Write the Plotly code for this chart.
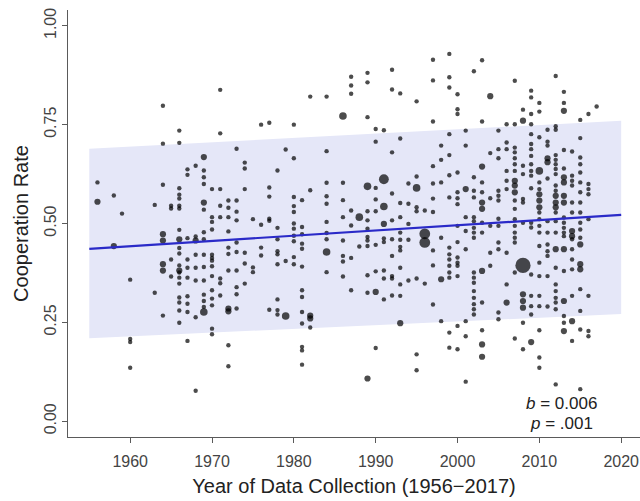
import numpy as np
import plotly.graph_objects as go

# ---- data ----
study_year = (
    [1956]*2 + [1958]*2 + [1959]*1 + [1960]*4 + [1963]*2 + [1964]*8 + [1965]*4 +
    [1966]*20 + [1967]*10 + [1968]*8 + [1969]*15 + [1970]*14 + [1971]*8 +
    [1972]*11 + [1973]*10 + [1974]*6 + [1975]*3 + [1976]*4 + [1977]*6 +
    [1978]*9 + [1979]*3 + [1980]*11 + [1981]*13 + [1982]*5 + [1984]*10 +
    [1986]*8 + [1987]*7 + [1988]*2 + [1989]*13 + [1990]*9 + [1991]*9 +
    [1992]*10 + [1993]*12 + [1994]*5 + [1995]*8 + [1996]*4 + [1997]*10 +
    [1998]*6 + [1999]*15 + [2000]*15 + [2001]*9 + [2002]*17 + [2003]*14 +
    [2004]*6 + [2005]*12 + [2006]*9 + [2007]*19 + [2008]*13 + [2009]*19 +
    [2010]*21 + [2011]*13 + [2012]*24 + [2013]*20 + [2014]*15 + [2015]*19 +
    [2016]*8 + [2017]*1
)

coop_rate = [
    0.604, 0.555,                                                   # 1956
    0.571, 0.443,                                                   # 1958
    0.525,                                                          # 1959
    0.358, 0.208, 0.200, 0.135,                                     # 1960
    0.547, 0.325,                                                   # 1963
    0.798, 0.702, 0.598, 0.473, 0.457, 0.397, 0.381, 0.267,         # 1964
    0.545, 0.538, 0.409, 0.366,                                     # 1965
    0.735, 0.704, 0.589, 0.573, 0.563, 0.545, 0.538, 0.484, 0.460, 0.438,
    0.424, 0.394, 0.381, 0.376, 0.363, 0.348, 0.313, 0.300, 0.280, 0.249,  # 1966
    0.637, 0.623, 0.463, 0.409, 0.388, 0.363, 0.316, 0.297, 0.276, 0.203,  # 1967
    0.646, 0.467, 0.457, 0.421, 0.388, 0.356, 0.263, 0.077,         # 1968
    0.668, 0.634, 0.617, 0.600, 0.553, 0.535, 0.478, 0.460, 0.421, 0.390,
    0.356, 0.320, 0.304, 0.289, 0.276,                              # 1969
    0.587, 0.516, 0.504, 0.485, 0.421, 0.413, 0.406, 0.392, 0.367, 0.331,
    0.310, 0.293, 0.234, 0.220,                                     # 1970
    0.838, 0.728, 0.587, 0.545, 0.516, 0.361, 0.349, 0.318,         # 1971
    0.558, 0.540, 0.516, 0.480, 0.439, 0.423, 0.381, 0.285, 0.278, 0.192,
    0.139,                                                          # 1972
    0.689, 0.558, 0.530, 0.508, 0.452, 0.428, 0.381, 0.339, 0.321, 0.285,  # 1973
    0.654, 0.639, 0.587, 0.426, 0.399, 0.348,                       # 1974
    0.511, 0.389, 0.377,                                            # 1975
    0.750, 0.497, 0.439, 0.419,                                     # 1976
    0.755, 0.591, 0.568, 0.512, 0.507, 0.282,                       # 1977
    0.634, 0.489, 0.460, 0.430, 0.422, 0.397, 0.308, 0.281, 0.270,  # 1978
    0.687, 0.405, 0.266,                                            # 1979
    0.750, 0.665, 0.567, 0.544, 0.529, 0.500, 0.487, 0.469, 0.455, 0.415,
    0.397,                                                          # 1980
    0.559, 0.491, 0.473, 0.449, 0.436, 0.391, 0.331, 0.314, 0.276, 0.247,
    0.188, 0.179, 0.143,                                            # 1981
    0.821, 0.584, 0.267, 0.260, 0.237,                              # 1982
    0.821, 0.683, 0.603, 0.569, 0.550, 0.504, 0.476, 0.460, 0.428, 0.377,  # 1984
    0.772, 0.603, 0.559, 0.516, 0.457, 0.418, 0.404, 0.366,         # 1986
    0.871, 0.849, 0.828, 0.533, 0.495, 0.413, 0.331,                # 1987
    0.516, 0.442,                                                   # 1988
    0.881, 0.857, 0.769, 0.594, 0.531, 0.508, 0.487, 0.466, 0.457, 0.443,
    0.369, 0.325, 0.108,                                            # 1989
    0.739, 0.707, 0.590, 0.561, 0.531, 0.446, 0.379, 0.327, 0.185,  # 1990
    0.736, 0.612, 0.543, 0.499, 0.462, 0.453, 0.381, 0.361, 0.308,  # 1991
    0.889, 0.839, 0.680, 0.576, 0.508, 0.460, 0.418, 0.367, 0.361, 0.318,  # 1992
    0.829, 0.715, 0.552, 0.516, 0.477, 0.459, 0.441, 0.432, 0.388, 0.346,
    0.317, 0.248,                                                   # 1993
    0.601, 0.550, 0.499, 0.459, 0.356,                              # 1994
    0.809, 0.619, 0.590, 0.541, 0.531, 0.361, 0.169, 0.129,         # 1995
    0.533, 0.474, 0.452, 0.348,                                     # 1996
    0.914, 0.862, 0.758, 0.645, 0.601, 0.563, 0.529, 0.432, 0.394, 0.295,  # 1997
    0.697, 0.661, 0.604, 0.464, 0.359, 0.253,                       # 1998
    0.929, 0.870, 0.844, 0.726, 0.673, 0.622, 0.566, 0.439, 0.422, 0.409,
    0.393, 0.376, 0.363, 0.224, 0.186,                              # 1999
    0.827, 0.789, 0.777, 0.629, 0.579, 0.564, 0.549, 0.494, 0.453, 0.414,
    0.401, 0.393, 0.367, 0.241, 0.182,                              # 2000
    0.735, 0.697, 0.587, 0.516, 0.481, 0.435, 0.253, 0.215, 0.100,  # 2001
    0.885, 0.617, 0.583, 0.566, 0.516, 0.506, 0.489, 0.477, 0.464, 0.376,
    0.363, 0.350, 0.329, 0.312, 0.296, 0.283, 0.270,                # 2002
    0.913, 0.758, 0.644, 0.604, 0.579, 0.553, 0.537, 0.502, 0.477, 0.380,
    0.300, 0.230, 0.194, 0.163,                                     # 2003
    0.822, 0.678, 0.564, 0.494, 0.426, 0.393,                       # 2004
    0.735, 0.688, 0.665, 0.583, 0.570, 0.558, 0.512, 0.494, 0.452, 0.435,
    0.275, 0.258,                                                   # 2005
    0.751, 0.705, 0.688, 0.633, 0.608, 0.587, 0.426, 0.346, 0.300,  # 2006
    0.861, 0.751, 0.692, 0.680, 0.665, 0.650, 0.633, 0.608, 0.596, 0.579,
    0.558, 0.537, 0.511, 0.494, 0.477, 0.464, 0.452, 0.376, 0.209,  # 2007
    0.788, 0.760, 0.646, 0.625, 0.562, 0.553, 0.502, 0.394, 0.321, 0.304,
    0.287, 0.249, 0.182,                                            # 2008
    0.836, 0.819, 0.777, 0.751, 0.726, 0.701, 0.688, 0.671, 0.650, 0.633,
    0.621, 0.589, 0.502, 0.490, 0.371, 0.317, 0.291, 0.270, 0.200,  # 2009
    0.805, 0.783, 0.718, 0.633, 0.604, 0.587, 0.574, 0.558, 0.541, 0.528,
    0.511, 0.494, 0.477, 0.443, 0.401, 0.367, 0.317, 0.291, 0.230, 0.161,
    0.135,                                                          # 2010
    0.737, 0.707, 0.697, 0.665, 0.655, 0.614, 0.506, 0.477, 0.447, 0.430,
    0.418, 0.367, 0.290,                                            # 2011
    0.873, 0.746, 0.737, 0.673, 0.661, 0.650, 0.638, 0.625, 0.596, 0.583,
    0.570, 0.553, 0.541, 0.528, 0.506, 0.477, 0.435, 0.388, 0.346, 0.329,
    0.312, 0.300, 0.283, 0.093,                                     # 2012
    0.833, 0.805, 0.785, 0.686, 0.639, 0.617, 0.604, 0.570, 0.553, 0.515,
    0.502, 0.489, 0.477, 0.468, 0.435, 0.380, 0.304, 0.266, 0.249, 0.228,  # 2013
    0.682, 0.621, 0.608, 0.596, 0.553, 0.528, 0.481, 0.468, 0.460, 0.435,
    0.409, 0.384, 0.317, 0.253, 0.203,                              # 2014
    0.762, 0.716, 0.667, 0.650, 0.629, 0.604, 0.579, 0.553, 0.528, 0.502,
    0.485, 0.464, 0.447, 0.397, 0.384, 0.334, 0.279, 0.232, 0.081,  # 2015
    0.777, 0.600, 0.587, 0.574, 0.511, 0.317, 0.228, 0.215,         # 2016
    0.796,                                                          # 2017
]

# relative study weight (drives dot size)
study_weight = [
    1, 2,
    1, 2,
    1,
    1, 1, 1, 1,
    1, 1,
    1, 1, 1, 2, 2, 2, 2, 1,
    1, 1, 1, 1,
    1, 1, 1, 1, 1, 1, 1, 1, 2, 1,
    1, 1, 2, 1, 1, 1, 1, 1, 1, 1,
    1, 1, 1, 1, 1, 1, 1, 1, 1, 1,
    1, 1, 2, 1, 1, 1, 1, 1,
    2, 1, 1, 1, 2, 1, 1, 1, 1, 1,
    1, 1, 1, 1, 3,
    1, 1, 1, 1, 1, 1, 1, 1, 1, 1,
    1, 1, 1, 1,
    1, 1, 1, 1, 1, 1, 1, 1,
    1, 1, 1, 1, 1, 1, 1, 2, 2, 1,
    1,
    1, 1, 1, 1, 1, 1, 1, 1, 1, 1,
    1, 1, 1, 1, 1, 1,
    1, 1, 1,
    1, 1, 1, 1,
    1, 1, 1, 1, 1, 1,
    1, 1, 1, 1, 1, 1, 1, 1, 1,
    1, 1, 3,
    1, 1, 1, 1, 1, 1, 1, 1, 1, 1,
    1,
    1, 1, 1, 1, 1, 1, 1, 1, 1, 1,
    1, 1, 1,
    1, 1, 2, 2, 1,
    1, 1, 1, 1, 1, 1, 1, 1, 3, 1,
    3, 1, 1, 1, 1, 1, 1, 1,
    1, 1, 1, 1, 1, 1, 1,
    3, 1,
    1, 1, 1, 3, 1, 1, 1, 1, 1, 1,
    1, 1, 2,
    1, 1, 1, 1, 1, 1, 1, 2, 1,
    1, 5, 3, 2, 1, 1, 1, 1, 1,
    1, 1, 1, 1, 1, 1, 1, 1, 1, 1,
    1, 1, 1, 1, 1, 1, 1, 1, 1, 1,
    1, 2,
    1, 1, 1, 1, 1,
    1, 1, 3, 1, 1, 1, 1, 1,
    1, 6, 6, 1,
    1, 1, 1, 1, 1, 1, 1, 1, 1, 1,
    1, 1, 1, 1, 2, 1,
    1, 1, 1, 1, 1, 1, 1, 1, 1, 1,
    1, 1, 1, 1, 1,
    1, 1, 1, 1, 1, 1, 1, 1, 1, 1,
    1, 1, 1, 1, 1,
    1, 1, 2, 1, 1, 1, 1, 1, 1,
    1, 1, 1, 1, 1, 1, 1, 1, 1, 1,
    1, 1, 1, 1, 1, 1, 1,
    1, 1, 2, 1, 1, 2, 2, 1, 1, 2,
    1, 1, 2, 2,
    2, 1, 1, 1, 1, 1,
    1, 1, 1, 1, 1, 1, 1, 1, 1, 1,
    1, 1,
    1, 1, 1, 1, 1, 1, 1, 1, 2,
    1, 1, 1, 1, 1, 1, 1, 2, 2, 2,
    1, 1, 1, 1, 1, 1, 1, 1, 1,
    1, 2, 1, 1, 1, 1, 1, 12, 2, 2,
    2, 1, 1,
    1, 1, 1, 1, 1, 1, 1, 1, 1, 1,
    1, 1, 1, 1, 1, 1, 1, 1, 2,
    1, 1, 1, 3, 1, 1, 2, 2, 2, 1,
    1, 1, 1, 1, 1, 1, 1, 1, 1, 1,
    1,
    1, 1, 1, 2, 2, 1, 1, 1, 1, 1,
    1, 1, 1,
    1, 1, 1, 1, 1, 1, 1, 1, 1, 1,
    2, 2, 2, 1, 1, 1, 2, 1, 1, 1,
    1, 1, 1, 1,
    1, 1, 2, 1, 1, 2, 2, 2, 2, 1,
    1, 1, 1, 1, 2, 1, 2, 1, 1, 2,
    1, 1, 1, 1, 1, 1, 2, 2, 1, 1,
    1, 1, 1, 2, 1,
    1, 1, 1, 1, 1, 1, 1, 1, 1, 1,
    1, 1, 2, 2, 2, 1, 1, 1, 1,
    1, 1, 1, 1, 1, 1, 1, 1,
    1,
]

fit_year = [1955, 2020]
fit_rate = [0.436, 0.522]
band_lower = [0.210, 0.271]
band_upper = [0.689, 0.760]

x_ticks = [1960, 1970, 1980, 1990, 2000, 2010, 2020]
y_ticks = [0.0, 0.25, 0.50, 0.75, 1.0]
y_tick_text = ["0.00", "0.25", "0.50", "0.75", "1.00"]

n = min(len(study_year), len(coop_rate), len(study_weight))
xs = np.array(study_year[:n], dtype=float)
ys = np.array(coop_rate[:n])
ws = np.array(study_weight[:n], dtype=float)
sizes = 4.4 * np.sqrt(ws)

FONT = "Liberation Sans, Arial, Helvetica, sans-serif"
AX = "#5a5a5a"

fig = go.Figure()
fig.add_trace(go.Scatter(x=fit_year, y=band_lower, mode="lines",
                         line=dict(width=0), hoverinfo="skip", showlegend=False))
fig.add_trace(go.Scatter(x=fit_year, y=band_upper, mode="lines",
                         line=dict(width=0), fill="tonexty",
                         fillcolor="rgb(229,231,248)", hoverinfo="skip",
                         showlegend=False))
fig.add_trace(go.Scatter(x=xs, y=ys, mode="markers",
                         marker=dict(color="#000000", size=sizes, line=dict(width=0)),
                         showlegend=False))
fig.add_trace(go.Scatter(x=fit_year, y=fit_rate, mode="lines",
                         line=dict(color="#2a2ac8", width=2.2), showlegend=False))

fig.add_annotation(x=2012.7, y=0.045, xref="x", yref="y", showarrow=False,
                   text="<i>b</i> = 0.006", font=dict(family=FONT, size=17, color="#222"))
fig.add_annotation(x=2012.7, y=-0.005, xref="x", yref="y", showarrow=False,
                   text="<i>p</i> = .001", font=dict(family=FONT, size=17, color="#222"))

fig.update_layout(
    width=640, height=501, autosize=False,
    margin=dict(l=68, r=0, t=10, b=64),
    paper_bgcolor="white", plot_bgcolor="white",
    font=dict(family=FONT),
    xaxis=dict(range=[1952.4, 2022.3], tickvals=x_ticks, ticks="outside",
               ticklen=5, tickcolor=AX, showline=True, linecolor=AX, linewidth=1,
               showgrid=False, zeroline=False, automargin=False,
               ticklabeloverflow="allow",
               tickfont=dict(size=16, color="#444"), ticklabelstandoff=5,
               title=dict(text="Year of Data Collection (1956\u22122017)",
                          font=dict(size=20, color="#222"), standoff=9)),
    yaxis=dict(range=[-0.04, 1.04], tickvals=y_ticks, ticktext=y_tick_text,
               tickangle=-90, ticks="outside", ticklen=5, tickcolor=AX,
               showline=True, linecolor=AX, linewidth=1, showgrid=False,
               zeroline=False, automargin=False, ticklabelstandoff=0,
               ticklabeloverflow="allow",
               tickfont=dict(size=16, color="#444"),
               title=dict(text="Cooperation Rate", font=dict(size=20, color="#222"),
                          standoff=7)),
)

# remove the browser's default page margin so the 640x501 figure fills the window
fig.write_html(
    "out.html",
    config={"displayModeBar": False},
    post_script="document.body.style.margin='0';document.body.style.overflow='hidden';",
)
